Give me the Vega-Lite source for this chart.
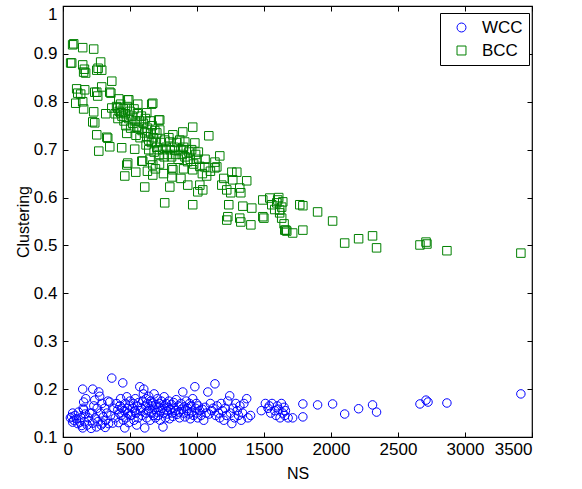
{
  "$schema": "https://vega.github.io/schema/vega-lite/v6.json",
  "width": 469,
  "height": 431,
  "autosize": {"type": "none"},
  "padding": {"left": 63, "top": 6, "right": 50, "bottom": 52},
  "background": "white",
  "config": {
    "font": "Liberation Sans",
    "view": {"stroke": "black", "strokeWidth": 1.2},
    "axis": {"grid": false, "domain": false, "tickColor": "black", "labelColor": "black", "titleColor": "black", "labelFontSize": 17, "titleFontSize": 16, "titleFontWeight": "normal", "tickSize": 5, "offset": -5, "tickWidth": 1}
  },
  "datasets": {
    "pts": [
      {"s":"WCC","x":55,"y":0.140},{"s":"WCC","x":65,"y":0.142},{"s":"WCC","x":72,"y":0.150},{"s":"WCC","x":72,"y":0.131},{"s":"WCC","x":80,"y":0.135},{"s":"WCC","x":90,"y":0.145},{"s":"WCC","x":100,"y":0.138},{"s":"WCC","x":110,"y":0.128},{"s":"WCC","x":115,"y":0.152},{"s":"WCC","x":125,"y":0.131},{"s":"WCC","x":135,"y":0.140},{"s":"WCC","x":140,"y":0.124},{"s":"WCC","x":147,"y":0.200},{"s":"WCC","x":150,"y":0.160},{"s":"WCC","x":154,"y":0.173},{"s":"WCC","x":154,"y":0.157},{"s":"WCC","x":147,"y":0.119},{"s":"WCC","x":160,"y":0.132},{"s":"WCC","x":165,"y":0.148},{"s":"WCC","x":170,"y":0.180},
      {"s":"WCC","x":180,"y":0.125},{"s":"WCC","x":190,"y":0.140},{"s":"WCC","x":200,"y":0.150},{"s":"WCC","x":210,"y":0.118},{"s":"WCC","x":215,"y":0.150},{"s":"WCC","x":222,"y":0.200},{"s":"WCC","x":222,"y":0.129},{"s":"WCC","x":230,"y":0.165},{"s":"WCC","x":237,"y":0.177},{"s":"WCC","x":240,"y":0.140},{"s":"WCC","x":250,"y":0.121},{"s":"WCC","x":255,"y":0.160},{"s":"WCC","x":260,"y":0.132},{"s":"WCC","x":267,"y":0.194},{"s":"WCC","x":274,"y":0.185},{"s":"WCC","x":280,"y":0.150},{"s":"WCC","x":285,"y":0.125},{"s":"WCC","x":290,"y":0.170},{"s":"WCC","x":296,"y":0.129},{"s":"WCC","x":300,"y":0.142},{"s":"WCC","x":310,"y":0.160},{"s":"WCC","x":315,"y":0.120},{"s":"WCC","x":320,"y":0.135},{"s":"WCC","x":327,"y":0.150},{"s":"WCC","x":335,"y":0.175},{"s":"WCC","x":340,"y":0.128},{"s":"WCC","x":349,"y":0.173},{"s":"WCC","x":355,"y":0.145},{"s":"WCC","x":364,"y":0.223},{"s":"WCC","x":371,"y":0.129},
      {"s":"WCC","x":380,"y":0.160},{"s":"WCC","x":390,"y":0.140},{"s":"WCC","x":400,"y":0.170},{"s":"WCC","x":409,"y":0.157},{"s":"WCC","x":415,"y":0.130},{"s":"WCC","x":420,"y":0.150},{"s":"WCC","x":425,"y":0.165},{"s":"WCC","x":430,"y":0.180},{"s":"WCC","x":435,"y":0.145},{"s":"WCC","x":440,"y":0.160},{"s":"WCC","x":446,"y":0.213},{"s":"WCC","x":450,"y":0.135},{"s":"WCC","x":455,"y":0.155},{"s":"WCC","x":461,"y":0.119},{"s":"WCC","x":465,"y":0.170},{"s":"WCC","x":470,"y":0.140},{"s":"WCC","x":476,"y":0.184},{"s":"WCC","x":480,"y":0.160},{"s":"WCC","x":485,"y":0.150},{"s":"WCC","x":490,"y":0.130},{"s":"WCC","x":495,"y":0.165},{"s":"WCC","x":500,"y":0.175},{"s":"WCC","x":505,"y":0.145},{"s":"WCC","x":513,"y":0.146},{"s":"WCC","x":520,"y":0.160},{"s":"WCC","x":525,"y":0.170},{"s":"WCC","x":530,"y":0.135},{"s":"WCC","x":535,"y":0.155},{"s":"WCC","x":540,"y":0.180},{"s":"WCC","x":545,"y":0.150},{"s":"WCC","x":550,"y":0.125},{"s":"WCC","x":555,"y":0.165},{"s":"WCC","x":560,"y":0.140},{"s":"WCC","x":565,"y":0.172},{"s":"WCC","x":573,"y":0.205},{"s":"WCC","x":578,"y":0.155},{"s":"WCC","x":585,"y":0.160},{"s":"WCC","x":590,"y":0.145},{"s":"WCC","x":595,"y":0.175},{"s":"WCC","x":600,"y":0.190},{"s":"WCC","x":603,"y":0.200},{"s":"WCC","x":610,"y":0.119},{"s":"WCC","x":615,"y":0.165},{"s":"WCC","x":618,"y":0.150},{"s":"WCC","x":620,"y":0.180},{"s":"WCC","x":625,"y":0.140},{"s":"WCC","x":630,"y":0.170},{"s":"WCC","x":635,"y":0.155},{"s":"WCC","x":640,"y":0.185},{"s":"WCC","x":645,"y":0.160},{"s":"WCC","x":650,"y":0.135},{"s":"WCC","x":655,"y":0.175},{"s":"WCC","x":660,"y":0.150},{"s":"WCC","x":665,"y":0.165},{"s":"WCC","x":670,"y":0.171},{"s":"WCC","x":675,"y":0.145},{"s":"WCC","x":680,"y":0.190},{"s":"WCC","x":685,"y":0.158},{"s":"WCC","x":690,"y":0.140},{"s":"WCC","x":695,"y":0.168},{"s":"WCC","x":700,"y":0.152},
      {"s":"WCC","x":705,"y":0.180},{"s":"WCC","x":710,"y":0.145},{"s":"WCC","x":715,"y":0.162},{"s":"WCC","x":720,"y":0.170},{"s":"WCC","x":725,"y":0.135},{"s":"WCC","x":730,"y":0.155},{"s":"WCC","x":735,"y":0.175},{"s":"WCC","x":740,"y":0.160},{"s":"WCC","x":746,"y":0.121},{"s":"WCC","x":750,"y":0.150},{"s":"WCC","x":755,"y":0.184},{"s":"WCC","x":759,"y":0.165},{"s":"WCC","x":765,"y":0.140},{"s":"WCC","x":770,"y":0.170},{"s":"WCC","x":775,"y":0.155},{"s":"WCC","x":780,"y":0.148},{"s":"WCC","x":785,"y":0.162},{"s":"WCC","x":790,"y":0.175},{"s":"WCC","x":795,"y":0.138},{"s":"WCC","x":800,"y":0.158},{"s":"WCC","x":810,"y":0.168},{"s":"WCC","x":815,"y":0.150},{"s":"WCC","x":820,"y":0.143},{"s":"WCC","x":825,"y":0.172},{"s":"WCC","x":830,"y":0.160},{"s":"WCC","x":840,"y":0.155},{"s":"WCC","x":845,"y":0.178},{"s":"WCC","x":850,"y":0.147},{"s":"WCC","x":860,"y":0.165},{"s":"WCC","x":865,"y":0.152},{"s":"WCC","x":870,"y":0.140},{"s":"WCC","x":880,"y":0.170},{"s":"WCC","x":885,"y":0.158},{"s":"WCC","x":894,"y":0.194},{"s":"WCC","x":900,"y":0.150},{"s":"WCC","x":905,"y":0.163},{"s":"WCC","x":910,"y":0.142},{"s":"WCC","x":920,"y":0.175},{"s":"WCC","x":925,"y":0.155},{"s":"WCC","x":930,"y":0.160},{"s":"WCC","x":940,"y":0.148},{"s":"WCC","x":945,"y":0.170},{"s":"WCC","x":950,"y":0.138},{"s":"WCC","x":955,"y":0.165},{"s":"WCC","x":960,"y":0.152},{"s":"WCC","x":968,"y":0.180},{"s":"WCC","x":975,"y":0.145},{"s":"WCC","x":984,"y":0.205},{"s":"WCC","x":990,"y":0.160},{"s":"WCC","x":995,"y":0.170},{"s":"WCC","x":1000,"y":0.150},{"s":"WCC","x":1005,"y":0.140},{"s":"WCC","x":1010,"y":0.165},{"s":"WCC","x":1020,"y":0.155},{"s":"WCC","x":1030,"y":0.145},{"s":"WCC","x":1040,"y":0.158},{"s":"WCC","x":1050,"y":0.135},{"s":"WCC","x":1060,"y":0.162},{"s":"WCC","x":1070,"y":0.150},{"s":"WCC","x":1081,"y":0.194},{"s":"WCC","x":1090,"y":0.148},{"s":"WCC","x":1100,"y":0.170},
      {"s":"WCC","x":1110,"y":0.155},{"s":"WCC","x":1120,"y":0.160},{"s":"WCC","x":1134,"y":0.211},{"s":"WCC","x":1140,"y":0.145},{"s":"WCC","x":1150,"y":0.165},{"s":"WCC","x":1160,"y":0.150},{"s":"WCC","x":1170,"y":0.140},{"s":"WCC","x":1180,"y":0.170},{"s":"WCC","x":1190,"y":0.155},{"s":"WCC","x":1200,"y":0.135},{"s":"WCC","x":1210,"y":0.160},{"s":"WCC","x":1220,"y":0.145},{"s":"WCC","x":1230,"y":0.175},{"s":"WCC","x":1244,"y":0.186},{"s":"WCC","x":1250,"y":0.150},{"s":"WCC","x":1260,"y":0.128},{"s":"WCC","x":1270,"y":0.160},{"s":"WCC","x":1280,"y":0.140},{"s":"WCC","x":1290,"y":0.170},{"s":"WCC","x":1300,"y":0.155},{"s":"WCC","x":1310,"y":0.145},{"s":"WCC","x":1320,"y":0.165},{"s":"WCC","x":1330,"y":0.135},{"s":"WCC","x":1340,"y":0.150},{"s":"WCC","x":1350,"y":0.170},{"s":"WCC","x":1371,"y":0.180},{"s":"WCC","x":1380,"y":0.140},{"s":"WCC","x":1400,"y":0.145},
      {"s":"WCC","x":1480,"y":0.155},{"s":"WCC","x":1510,"y":0.170},{"s":"WCC","x":1530,"y":0.160},{"s":"WCC","x":1540,"y":0.165},{"s":"WCC","x":1550,"y":0.150},{"s":"WCC","x":1560,"y":0.170},{"s":"WCC","x":1580,"y":0.155},{"s":"WCC","x":1590,"y":0.145},{"s":"WCC","x":1600,"y":0.165},{"s":"WCC","x":1610,"y":0.158},{"s":"WCC","x":1620,"y":0.140},{"s":"WCC","x":1630,"y":0.170},{"s":"WCC","x":1640,"y":0.150},{"s":"WCC","x":1650,"y":0.162},{"s":"WCC","x":1655,"y":0.145},{"s":"WCC","x":1660,"y":0.155},{"s":"WCC","x":1680,"y":0.140},{"s":"WCC","x":1714,"y":0.140},
      {"s":"WCC","x":1790,"y":0.169},{"s":"WCC","x":1900,"y":0.167},{"s":"WCC","x":2012,"y":0.169},{"s":"WCC","x":1790,"y":0.142},{"s":"WCC","x":2102,"y":0.148},{"s":"WCC","x":2206,"y":0.159},{"s":"WCC","x":2310,"y":0.167},{"s":"WCC","x":2340,"y":0.152},{"s":"WCC","x":2664,"y":0.169},{"s":"WCC","x":2709,"y":0.177},{"s":"WCC","x":2724,"y":0.173},{"s":"WCC","x":2865,"y":0.171},{"s":"WCC","x":3417,"y":0.190},
      {"s":"BCC","x":72,"y":0.919},{"s":"BCC","x":80,"y":0.921},{"s":"BCC","x":147,"y":0.913},{"s":"BCC","x":229,"y":0.910},{"s":"BCC","x":57,"y":0.881},{"s":"BCC","x":65,"y":0.881},{"s":"BCC","x":147,"y":0.877},{"s":"BCC","x":154,"y":0.862},{"s":"BCC","x":169,"y":0.860},{"s":"BCC","x":160,"y":0.868},{"s":"BCC","x":252,"y":0.866},{"s":"BCC","x":262,"y":0.870},{"s":"BCC","x":281,"y":0.883},{"s":"BCC","x":289,"y":0.866},{"s":"BCC","x":364,"y":0.843},{"s":"BCC","x":110,"y":0.818},{"s":"BCC","x":102,"y":0.827},{"s":"BCC","x":162,"y":0.825},{"s":"BCC","x":132,"y":0.816},{"s":"BCC","x":252,"y":0.820},{"s":"BCC","x":237,"y":0.820},{"s":"BCC","x":259,"y":0.812},{"s":"BCC","x":289,"y":0.831},{"s":"BCC","x":349,"y":0.820},{"s":"BCC","x":357,"y":0.818},{"s":"BCC","x":95,"y":0.797},{"s":"BCC","x":147,"y":0.800},{"s":"BCC","x":154,"y":0.785},{"s":"BCC","x":229,"y":0.779},{"s":"BCC","x":237,"y":0.756},{"s":"BCC","x":222,"y":0.758},{"s":"BCC","x":252,"y":0.731},{"s":"BCC","x":267,"y":0.697},{"s":"BCC","x":327,"y":0.726},{"s":"BCC","x":334,"y":0.724},{"s":"BCC","x":349,"y":0.706},{"s":"BCC","x":319,"y":0.775},{"s":"BCC","x":364,"y":0.787},{"s":"BCC","x":416,"y":0.806},{"s":"BCC","x":491,"y":0.804},{"s":"BCC","x":409,"y":0.787},{"s":"BCC","x":431,"y":0.777},{"s":"BCC","x":483,"y":0.804},{"s":"BCC","x":558,"y":0.795},{"s":"BCC","x":662,"y":0.795},{"s":"BCC","x":670,"y":0.797},{"s":"BCC","x":625,"y":0.777},{"s":"BCC","x":715,"y":0.762},{"s":"BCC","x":722,"y":0.762},{"s":"BCC","x":438,"y":0.704},{"s":"BCC","x":535,"y":0.701},{"s":"BCC","x":476,"y":0.734},{"s":"BCC","x":550,"y":0.747},{"s":"BCC","x":625,"y":0.727},{"s":"BCC","x":722,"y":0.741},{"s":"BCC","x":797,"y":0.716},{"s":"BCC","x":894,"y":0.737},{"s":"BCC","x":834,"y":0.699},{"s":"BCC","x":909,"y":0.716},{"s":"BCC","x":483,"y":0.672},{"s":"BCC","x":588,"y":0.676},{"s":"BCC","x":670,"y":0.668},{"s":"BCC","x":812,"y":0.662},{"s":"BCC","x":476,"y":0.668},{"s":"BCC","x":461,"y":0.645},{"s":"BCC","x":543,"y":0.653},{"s":"BCC","x":610,"y":0.622},{"s":"BCC","x":595,"y":0.676},
      {"s":"BCC","x":390,"y":0.775},{"s":"BCC","x":400,"y":0.790},{"s":"BCC","x":410,"y":0.765},{"s":"BCC","x":420,"y":0.780},{"s":"BCC","x":430,"y":0.795},{"s":"BCC","x":440,"y":0.770},{"s":"BCC","x":450,"y":0.785},{"s":"BCC","x":455,"y":0.760},{"s":"BCC","x":465,"y":0.775},{"s":"BCC","x":470,"y":0.750},{"s":"BCC","x":480,"y":0.790},{"s":"BCC","x":490,"y":0.765},{"s":"BCC","x":500,"y":0.780},{"s":"BCC","x":505,"y":0.745},{"s":"BCC","x":515,"y":0.770},{"s":"BCC","x":520,"y":0.755},{"s":"BCC","x":530,"y":0.785},{"s":"BCC","x":540,"y":0.760},{"s":"BCC","x":545,"y":0.730},{"s":"BCC","x":555,"y":0.775},{"s":"BCC","x":560,"y":0.745},{"s":"BCC","x":570,"y":0.760},{"s":"BCC","x":575,"y":0.725},{"s":"BCC","x":585,"y":0.770},{"s":"BCC","x":590,"y":0.740},{"s":"BCC","x":600,"y":0.755},{"s":"BCC","x":610,"y":0.735},{"s":"BCC","x":615,"y":0.765},{"s":"BCC","x":630,"y":0.745},{"s":"BCC","x":640,"y":0.720},{"s":"BCC","x":650,"y":0.760},{"s":"BCC","x":655,"y":0.735},{"s":"BCC","x":665,"y":0.750},{"s":"BCC","x":675,"y":0.725},{"s":"BCC","x":685,"y":0.740},{"s":"BCC","x":690,"y":0.715},{"s":"BCC","x":700,"y":0.735},{"s":"BCC","x":710,"y":0.700},
      {"s":"BCC","x":620,"y":0.710},{"s":"BCC","x":640,"y":0.700},{"s":"BCC","x":660,"y":0.715},{"s":"BCC","x":680,"y":0.695},{"s":"BCC","x":700,"y":0.705},{"s":"BCC","x":720,"y":0.690},{"s":"BCC","x":730,"y":0.715},{"s":"BCC","x":745,"y":0.700},{"s":"BCC","x":755,"y":0.685},{"s":"BCC","x":760,"y":0.720},{"s":"BCC","x":770,"y":0.705},{"s":"BCC","x":780,"y":0.690},{"s":"BCC","x":790,"y":0.725},{"s":"BCC","x":800,"y":0.700},{"s":"BCC","x":810,"y":0.685},{"s":"BCC","x":820,"y":0.731},{"s":"BCC","x":830,"y":0.705},{"s":"BCC","x":840,"y":0.690},{"s":"BCC","x":850,"y":0.715},{"s":"BCC","x":860,"y":0.680},{"s":"BCC","x":871,"y":0.720},{"s":"BCC","x":880,"y":0.700},{"s":"BCC","x":890,"y":0.690},{"s":"BCC","x":900,"y":0.705},{"s":"BCC","x":910,"y":0.685},{"s":"BCC","x":920,"y":0.700},{"s":"BCC","x":930,"y":0.675},{"s":"BCC","x":940,"y":0.695},{"s":"BCC","x":950,"y":0.680},{"s":"BCC","x":960,"y":0.700},{"s":"BCC","x":968,"y":0.747},{"s":"BCC","x":975,"y":0.670},{"s":"BCC","x":984,"y":0.714},{"s":"BCC","x":990,"y":0.690},{"s":"BCC","x":1000,"y":0.680},{"s":"BCC","x":1010,"y":0.695},{"s":"BCC","x":1021,"y":0.665},{"s":"BCC","x":1088,"y":0.729},{"s":"BCC","x":690,"y":0.660},{"s":"BCC","x":720,"y":0.670},{"s":"BCC","x":750,"y":0.650},{"s":"BCC","x":650,"y":0.680},{"s":"BCC","x":630,"y":0.655},
      {"s":"BCC","x":1170,"y":0.687},{"s":"BCC","x":1134,"y":0.674},{"s":"BCC","x":1134,"y":0.662},{"s":"BCC","x":1260,"y":0.653},{"s":"BCC","x":1297,"y":0.653},{"s":"BCC","x":1371,"y":0.635},{"s":"BCC","x":1267,"y":0.637},{"s":"BCC","x":1185,"y":0.626},{"s":"BCC","x":1222,"y":0.616},{"s":"BCC","x":1252,"y":0.610},{"s":"BCC","x":1319,"y":0.620},{"s":"BCC","x":1327,"y":0.610},{"s":"BCC","x":1021,"y":0.626},{"s":"BCC","x":1043,"y":0.616},{"s":"BCC","x":931,"y":0.626},{"s":"BCC","x":1006,"y":0.612},{"s":"BCC","x":797,"y":0.622},{"s":"BCC","x":812,"y":0.643},{"s":"BCC","x":968,"y":0.658},{"s":"BCC","x":1058,"y":0.664},{"s":"BCC","x":1148,"y":0.664},{"s":"BCC","x":670,"y":0.647},{"s":"BCC","x":820,"y":0.658},{"s":"BCC","x":759,"y":0.589},{"s":"BCC","x":968,"y":0.585},{"s":"BCC","x":1237,"y":0.585},{"s":"BCC","x":1342,"y":0.582},{"s":"BCC","x":1409,"y":0.578},{"s":"BCC","x":1072,"y":0.645},{"s":"BCC","x":1100,"y":0.655},{"s":"BCC","x":1200,"y":0.640},{"s":"BCC","x":1060,"y":0.680},{"s":"BCC","x":880,"y":0.640},{"s":"BCC","x":900,"y":0.660},{"s":"BCC","x":1040,"y":0.650},
      {"s":"BCC","x":1491,"y":0.595},{"s":"BCC","x":1543,"y":0.599},{"s":"BCC","x":1602,"y":0.595},{"s":"BCC","x":1640,"y":0.591},{"s":"BCC","x":1558,"y":0.585},{"s":"BCC","x":1632,"y":0.580},{"s":"BCC","x":1617,"y":0.568},{"s":"BCC","x":1491,"y":0.560},{"s":"BCC","x":1319,"y":0.557},{"s":"BCC","x":1230,"y":0.560},{"s":"BCC","x":1222,"y":0.553},{"s":"BCC","x":1327,"y":0.549},{"s":"BCC","x":1402,"y":0.543},{"s":"BCC","x":1499,"y":0.557},{"s":"BCC","x":1663,"y":0.532},{"s":"BCC","x":1714,"y":0.526},{"s":"BCC","x":1767,"y":0.585},{"s":"BCC","x":1617,"y":0.574},{"s":"BCC","x":1632,"y":0.557},{"s":"BCC","x":1595,"y":0.589},{"s":"BCC","x":1650,"y":0.545},{"s":"BCC","x":1670,"y":0.530},{"s":"BCC","x":1580,"y":0.575},{"s":"BCC","x":1610,"y":0.600},{"s":"BCC","x":1655,"y":0.532},
      {"s":"BCC","x":1790,"y":0.583},{"s":"BCC","x":1900,"y":0.570},{"s":"BCC","x":2012,"y":0.551},{"s":"BCC","x":1790,"y":0.532},{"s":"BCC","x":2102,"y":0.505},{"s":"BCC","x":2206,"y":0.514},{"s":"BCC","x":2310,"y":0.520},{"s":"BCC","x":2340,"y":0.495},{"s":"BCC","x":2664,"y":0.501},{"s":"BCC","x":2709,"y":0.507},{"s":"BCC","x":2716,"y":0.503},{"s":"BCC","x":2865,"y":0.489},{"s":"BCC","x":3417,"y":0.484}
    ]
  },
  "data": {"name": "pts"},
  "resolve": {"axis": {"x": "independent", "y": "independent"}},
  "layer": [
    {
      "mark": {"type": "point", "filled": false, "strokeWidth": 1, "size": 72, "opacity": 1},
      "encoding": {
        "x": {"field": "x", "type": "quantitative", "scale": {"domain": [0, 3500], "nice": false, "zero": false}, "axis": {"orient": "bottom", "title": "NS", "values": [0,500,1000,1500,2000,2500,3000,3500], "format": "d", "labelPadding": 4, "titlePadding": 8}},
        "y": {"field": "y", "type": "quantitative", "scale": {"domain": [0.1, 1], "nice": false, "zero": false}, "axis": {"orient": "left", "title": "Clustering", "values": [0.1,0.2,0.3,0.4,0.5,0.6,0.7,0.8,0.9,1], "format": ".1~f", "labelPadding": 6, "titlePadding": 2, "labelBaseline": {"condition": {"test": "datum.value == 1", "value": "top"}, "value": "middle"}}},
        "color": {"field": "s", "type": "nominal", "scale": {"domain": ["WCC","BCC"], "range": ["#0000ff","#008000"]}, "legend": {"title": null, "orient": "none", "legendX": 377, "legendY": 7, "strokeColor": "black", "fillColor": "white", "padding": 6, "labelFontSize": 17, "symbolSize": 80, "symbolStrokeWidth": 1, "rowPadding": 5, "labelOffset": 12, "symbolOffset": 7, "labelColor": "black"}},
        "shape": {"field": "s", "type": "nominal", "scale": {"domain": ["WCC","BCC"], "range": ["circle","square"]}}
      }
    },
    {
      "mark": {"type": "point", "opacity": 0},
      "encoding": {
        "x": {"field": "x", "type": "quantitative", "axis": {"orient": "top", "title": null, "labels": false, "values": [0,500,1000,1500,2000,2500,3000,3500]}},
        "y": {"field": "y", "type": "quantitative", "axis": {"orient": "right", "title": null, "labels": false, "values": [0.1,0.2,0.3,0.4,0.5,0.6,0.7,0.8,0.9,1]}}
      }
    }
  ]
}
